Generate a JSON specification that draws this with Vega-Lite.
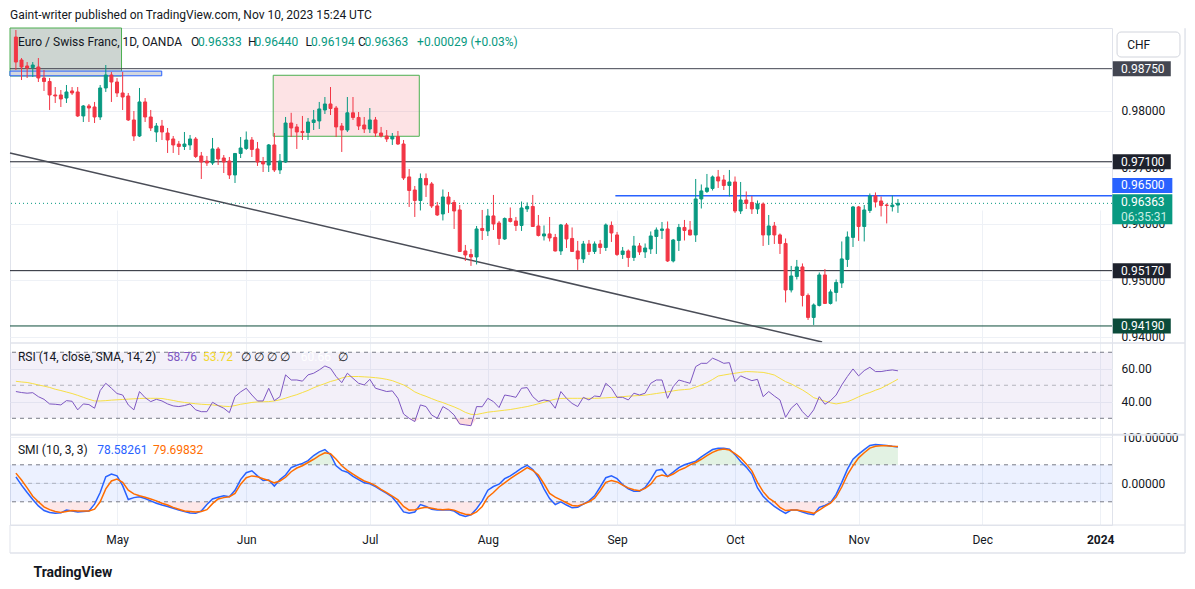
{
  "$schema": "https://vega.github.io/schema/vega-lite/v6.json",
  "description": "EUR/CHF daily candles with RSI and SMI panes, TradingView style.",
  "width": 1102,
  "height": 497,
  "autosize": {"type": "none"},
  "padding": {"left": 10, "top": 28, "right": 83, "bottom": 64},
  "background": "#ffffff",
  "title": {
    "text": "Gaint-writer published on TradingView.com, Nov 10, 2023 15:24 UTC",
    "anchor": "start",
    "frame": "group",
    "fontSize": 12,
    "fontWeight": "normal",
    "color": "#131722",
    "baseline": "middle",
    "offset": 0
  },
  "config": {
    "font": "Roboto",
    "view": {"stroke": "#e0e3eb"},
    "axis": {
      "labelFontSize": 12,
      "labelColor": "#131722",
      "domain": false,
      "ticks": false,
      "gridColor": "#eef1f6",
      "labelFlush": false,
      "labelOverlap": false
    }
  },
  "data": {"values": [{}]},
  "datasets": {
    "levels": [
      {"p": 0.9875, "tag": "0.98750"},
      {"p": 0.971, "tag": "0.97100"},
      {"p": 0.965, "tag": "0.96500"},
      {"p": 0.9517, "tag": "0.95170"},
      {"p": 0.9419, "tag": "0.94190"}
    ],
    "bars": [
      {"i":0,"o":0.99311,"h":0.99435,"l":0.98727,"c":0.98868,"rsi":46.2,"ma":52.4,"smi":14,"sig":22},
      {"i":1,"o":0.98904,"h":0.98939,"l":0.98549,"c":0.98780,"rsi":45.6,"ma":52.0,"smi":-4,"sig":7},
      {"i":2,"o":0.98798,"h":0.98868,"l":0.98585,"c":0.98762,"rsi":45.2,"ma":51.7,"smi":-20,"sig":-10},
      {"i":3,"o":0.98771,"h":0.98868,"l":0.98603,"c":0.98815,"rsi":45.5,"ma":51.0,"smi":-35,"sig":-28},
      {"i":4,"o":0.98780,"h":0.98939,"l":0.98514,"c":0.98585,"rsi":43.1,"ma":50.2,"smi":-49,"sig":-40},
      {"i":5,"o":0.98585,"h":0.98727,"l":0.98355,"c":0.98523,"rsi":41.5,"ma":49.5,"smi":-59,"sig":-51},
      {"i":6,"o":0.98523,"h":0.98585,"l":0.98018,"c":0.98284,"rsi":38.7,"ma":48.7,"smi":-63,"sig":-57},
      {"i":7,"o":0.98284,"h":0.98425,"l":0.98142,"c":0.98266,"rsi":38.5,"ma":47.6,"smi":-65,"sig":-61},
      {"i":8,"o":0.98284,"h":0.98372,"l":0.98071,"c":0.98213,"rsi":38.1,"ma":46.8,"smi":-64,"sig":-63},
      {"i":9,"o":0.98230,"h":0.98461,"l":0.98142,"c":0.98337,"rsi":40.7,"ma":45.9,"smi":-58,"sig":-61},
      {"i":10,"o":0.98355,"h":0.98425,"l":0.98284,"c":0.98319,"rsi":40.3,"ma":45.0,"smi":-60,"sig":-59},
      {"i":11,"o":0.98337,"h":0.98425,"l":0.97894,"c":0.97912,"rsi":35.1,"ma":43.9,"smi":-62,"sig":-60},
      {"i":12,"o":0.97912,"h":0.98106,"l":0.97805,"c":0.98089,"rsi":38.7,"ma":42.7,"smi":-61,"sig":-60},
      {"i":13,"o":0.98089,"h":0.98124,"l":0.97805,"c":0.98053,"rsi":38.3,"ma":41.5,"smi":-60,"sig":-60},
      {"i":14,"o":0.98071,"h":0.98160,"l":0.97787,"c":0.97894,"rsi":36.1,"ma":40.5,"smi":-45,"sig":-56},
      {"i":15,"o":0.97894,"h":0.98461,"l":0.97841,"c":0.98408,"rsi":46.8,"ma":40.5,"smi":-20,"sig":-40},
      {"i":16,"o":0.98408,"h":0.98815,"l":0.98337,"c":0.98638,"rsi":51.2,"ma":40.7,"smi":14,"sig":-12},
      {"i":17,"o":0.98638,"h":0.98691,"l":0.98160,"c":0.98514,"rsi":48.2,"ma":41.0,"smi":20,"sig":5},
      {"i":18,"o":0.98514,"h":0.98585,"l":0.98248,"c":0.98319,"rsi":45.0,"ma":41.2,"smi":16,"sig":9},
      {"i":19,"o":0.98319,"h":0.98691,"l":0.98018,"c":0.98248,"rsi":44.1,"ma":41.4,"smi":-5,"sig":2},
      {"i":20,"o":0.98266,"h":0.98319,"l":0.97823,"c":0.97841,"rsi":38.1,"ma":41.6,"smi":-35,"sig":-15},
      {"i":21,"o":0.97841,"h":0.98000,"l":0.97469,"c":0.97557,"rsi":35.1,"ma":41.8,"smi":-31,"sig":-23},
      {"i":22,"o":0.97557,"h":0.98408,"l":0.97539,"c":0.98160,"rsi":46.2,"ma":42.0,"smi":-29,"sig":-27},
      {"i":23,"o":0.98160,"h":0.98230,"l":0.97805,"c":0.97894,"rsi":42.5,"ma":42.1,"smi":-33,"sig":-30},
      {"i":24,"o":0.97894,"h":0.98018,"l":0.97646,"c":0.97699,"rsi":40.1,"ma":42.1,"smi":-38,"sig":-34},
      {"i":25,"o":0.97628,"h":0.97787,"l":0.97451,"c":0.97734,"rsi":41.5,"ma":42.1,"smi":-43,"sig":-38},
      {"i":26,"o":0.97734,"h":0.97841,"l":0.97486,"c":0.97628,"rsi":40.5,"ma":42.0,"smi":-47,"sig":-43},
      {"i":27,"o":0.97610,"h":0.97699,"l":0.97256,"c":0.97486,"rsi":38.7,"ma":41.4,"smi":-50,"sig":-47},
      {"i":28,"o":0.97504,"h":0.97557,"l":0.97256,"c":0.97398,"rsi":37.5,"ma":40.8,"smi":-54,"sig":-52},
      {"i":29,"o":0.97415,"h":0.97469,"l":0.97220,"c":0.97371,"rsi":37.1,"ma":40.1,"smi":-58,"sig":-56},
      {"i":30,"o":0.97371,"h":0.97628,"l":0.97309,"c":0.97415,"rsi":37.7,"ma":39.6,"smi":-61,"sig":-60},
      {"i":31,"o":0.97398,"h":0.97575,"l":0.97309,"c":0.97504,"rsi":38.7,"ma":39.2,"smi":-64,"sig":-61},
      {"i":32,"o":0.97504,"h":0.97539,"l":0.97167,"c":0.97194,"rsi":35.1,"ma":38.8,"smi":-65,"sig":-62},
      {"i":33,"o":0.97203,"h":0.97274,"l":0.96795,"c":0.97096,"rsi":34.0,"ma":38.5,"smi":-60,"sig":-61},
      {"i":34,"o":0.97114,"h":0.97203,"l":0.97026,"c":0.97079,"rsi":34.0,"ma":38.3,"smi":-46,"sig":-57},
      {"i":35,"o":0.97079,"h":0.97522,"l":0.97043,"c":0.97327,"rsi":39.7,"ma":38.1,"smi":-34,"sig":-44},
      {"i":36,"o":0.97327,"h":0.97362,"l":0.97043,"c":0.97150,"rsi":37.7,"ma":37.7,"smi":-30,"sig":-34},
      {"i":37,"o":0.97167,"h":0.97220,"l":0.96901,"c":0.97096,"rsi":36.1,"ma":37.3,"smi":-27,"sig":-31},
      {"i":38,"o":0.97114,"h":0.97185,"l":0.96795,"c":0.96866,"rsi":33.4,"ma":37.1,"smi":-29,"sig":-29},
      {"i":39,"o":0.96866,"h":0.97256,"l":0.96724,"c":0.97247,"rsi":43.1,"ma":37.7,"smi":-15,"sig":-22},
      {"i":40,"o":0.97247,"h":0.97539,"l":0.97167,"c":0.97344,"rsi":46.0,"ma":38.5,"smi":8,"sig":-2},
      {"i":41,"o":0.97336,"h":0.97637,"l":0.97309,"c":0.97486,"rsi":48.2,"ma":39.0,"smi":23,"sig":12},
      {"i":42,"o":0.97486,"h":0.97539,"l":0.97185,"c":0.97318,"rsi":44.1,"ma":39.6,"smi":27,"sig":16},
      {"i":43,"o":0.97327,"h":0.97451,"l":0.97026,"c":0.97096,"rsi":40.5,"ma":39.9,"smi":16,"sig":14},
      {"i":44,"o":0.97105,"h":0.97185,"l":0.96919,"c":0.97061,"rsi":40.5,"ma":40.0,"smi":6,"sig":10},
      {"i":45,"o":0.97043,"h":0.97415,"l":0.96919,"c":0.97398,"rsi":48.2,"ma":40.1,"smi":7,"sig":6},
      {"i":46,"o":0.97398,"h":0.97610,"l":0.96919,"c":0.96955,"rsi":40.7,"ma":40.5,"smi":-6,"sig":1},
      {"i":47,"o":0.96955,"h":0.97238,"l":0.96884,"c":0.97114,"rsi":43.1,"ma":41.2,"smi":8,"sig":5},
      {"i":48,"o":0.97096,"h":0.97894,"l":0.97079,"c":0.97787,"rsi":56.3,"ma":42.2,"smi":18,"sig":13},
      {"i":49,"o":0.97787,"h":0.97968,"l":0.97539,"c":0.97699,"rsi":53.2,"ma":43.3,"smi":34,"sig":25},
      {"i":50,"o":0.97717,"h":0.97770,"l":0.97327,"c":0.97628,"rsi":53.2,"ma":44.3,"smi":39,"sig":33},
      {"i":51,"o":0.97637,"h":0.97912,"l":0.97486,"c":0.97619,"rsi":52.5,"ma":45.6,"smi":43,"sig":38},
      {"i":52,"o":0.97619,"h":0.97876,"l":0.97486,"c":0.97805,"rsi":56.3,"ma":46.9,"smi":49,"sig":45},
      {"i":53,"o":0.97796,"h":0.98018,"l":0.97663,"c":0.97841,"rsi":57.3,"ma":48.5,"smi":60,"sig":52},
      {"i":54,"o":0.97823,"h":0.98160,"l":0.97681,"c":0.98036,"rsi":59.3,"ma":49.8,"smi":68,"sig":60},
      {"i":55,"o":0.98018,"h":0.98248,"l":0.97947,"c":0.98124,"rsi":61.7,"ma":51.0,"smi":73,"sig":66},
      {"i":56,"o":0.98124,"h":0.98425,"l":0.97929,"c":0.98044,"rsi":60.3,"ma":52.3,"smi":62,"sig":64},
      {"i":57,"o":0.98053,"h":0.98089,"l":0.97539,"c":0.97717,"rsi":55.3,"ma":53.2,"smi":38,"sig":52},
      {"i":58,"o":0.97734,"h":0.97787,"l":0.97274,"c":0.97663,"rsi":51.6,"ma":54.4,"smi":28,"sig":38},
      {"i":59,"o":0.97663,"h":0.98248,"l":0.97628,"c":0.97968,"rsi":57.3,"ma":55.3,"smi":24,"sig":28},
      {"i":60,"o":0.97968,"h":0.98248,"l":0.97841,"c":0.97885,"rsi":54.2,"ma":55.3,"smi":15,"sig":20},
      {"i":61,"o":0.97885,"h":0.97982,"l":0.97663,"c":0.97734,"rsi":51.2,"ma":55.3,"smi":8,"sig":12},
      {"i":62,"o":0.97752,"h":0.97894,"l":0.97610,"c":0.97681,"rsi":50.2,"ma":55.1,"smi":1,"sig":5},
      {"i":63,"o":0.97681,"h":0.98053,"l":0.97610,"c":0.97841,"rsi":53.6,"ma":54.9,"smi":-1,"sig":1},
      {"i":64,"o":0.97841,"h":0.97894,"l":0.97539,"c":0.97610,"rsi":48.2,"ma":54.6,"smi":-7,"sig":-5},
      {"i":65,"o":0.97610,"h":0.97717,"l":0.97531,"c":0.97557,"rsi":47.2,"ma":54.2,"smi":-15,"sig":-13},
      {"i":66,"o":0.97557,"h":0.97663,"l":0.97451,"c":0.97504,"rsi":46.2,"ma":53.6,"smi":-22,"sig":-20},
      {"i":67,"o":0.97504,"h":0.97610,"l":0.97398,"c":0.97548,"rsi":46.6,"ma":52.8,"smi":-30,"sig":-28},
      {"i":68,"o":0.97548,"h":0.97646,"l":0.97398,"c":0.97415,"rsi":42.1,"ma":51.5,"smi":-45,"sig":-36},
      {"i":69,"o":0.97415,"h":0.97486,"l":0.96777,"c":0.96813,"rsi":32.6,"ma":50.2,"smi":-62,"sig":-50},
      {"i":70,"o":0.96831,"h":0.96972,"l":0.96299,"c":0.96591,"rsi":30.0,"ma":48.3,"smi":-65,"sig":-58},
      {"i":71,"o":0.96600,"h":0.96671,"l":0.96122,"c":0.96414,"rsi":28.0,"ma":46.0,"smi":-62,"sig":-57},
      {"i":72,"o":0.96414,"h":0.96893,"l":0.96237,"c":0.96804,"rsi":38.1,"ma":44.5,"smi":-46,"sig":-54},
      {"i":73,"o":0.96804,"h":0.96893,"l":0.96476,"c":0.96689,"rsi":37.1,"ma":43.3,"smi":-50,"sig":-52},
      {"i":74,"o":0.96707,"h":0.96742,"l":0.96281,"c":0.96317,"rsi":32.0,"ma":41.9,"smi":-56,"sig":-54},
      {"i":75,"o":0.96317,"h":0.96388,"l":0.96140,"c":0.96157,"rsi":30.0,"ma":40.6,"smi":-58,"sig":-56},
      {"i":76,"o":0.96175,"h":0.96609,"l":0.96060,"c":0.96476,"rsi":37.1,"ma":39.5,"smi":-58,"sig":-57},
      {"i":77,"o":0.96476,"h":0.96565,"l":0.96193,"c":0.96352,"rsi":35.1,"ma":38.2,"smi":-57,"sig":-56},
      {"i":78,"o":0.96379,"h":0.96423,"l":0.95909,"c":0.96228,"rsi":32.0,"ma":36.9,"smi":-60,"sig":-58},
      {"i":79,"o":0.96246,"h":0.96334,"l":0.95502,"c":0.95510,"rsi":26.5,"ma":35.4,"smi":-68,"sig":-63},
      {"i":80,"o":0.95519,"h":0.95626,"l":0.95342,"c":0.95448,"rsi":26.0,"ma":33.6,"smi":-72,"sig":-67},
      {"i":81,"o":0.95457,"h":0.95555,"l":0.95254,"c":0.95413,"rsi":25.5,"ma":32.4,"smi":-68,"sig":-68},
      {"i":82,"o":0.95413,"h":0.95962,"l":0.95280,"c":0.95909,"rsi":37.1,"ma":32.3,"smi":-55,"sig":-62},
      {"i":83,"o":0.95918,"h":0.96246,"l":0.95714,"c":0.95883,"rsi":37.0,"ma":33.0,"smi":-38,"sig":-50},
      {"i":84,"o":0.95874,"h":0.96264,"l":0.95785,"c":0.96140,"rsi":42.1,"ma":33.7,"smi":-15,"sig":-30},
      {"i":85,"o":0.96140,"h":0.96512,"l":0.95891,"c":0.95998,"rsi":40.1,"ma":34.1,"smi":-7,"sig":-20},
      {"i":86,"o":0.96015,"h":0.96051,"l":0.95626,"c":0.95741,"rsi":36.5,"ma":34.5,"smi":-2,"sig":-8},
      {"i":87,"o":0.95732,"h":0.96113,"l":0.95714,"c":0.96095,"rsi":44.1,"ma":34.9,"smi":10,"sig":1},
      {"i":88,"o":0.96095,"h":0.96290,"l":0.96024,"c":0.96042,"rsi":43.5,"ma":35.3,"smi":16,"sig":10},
      {"i":89,"o":0.96051,"h":0.96122,"l":0.95874,"c":0.95971,"rsi":42.7,"ma":35.9,"smi":24,"sig":18},
      {"i":90,"o":0.95971,"h":0.96396,"l":0.95874,"c":0.96281,"rsi":48.2,"ma":36.5,"smi":33,"sig":26},
      {"i":91,"o":0.96264,"h":0.96379,"l":0.96210,"c":0.96308,"rsi":48.6,"ma":37.1,"smi":39,"sig":34},
      {"i":92,"o":0.96308,"h":0.96512,"l":0.95945,"c":0.95953,"rsi":43.1,"ma":37.9,"smi":30,"sig":28},
      {"i":93,"o":0.95962,"h":0.96157,"l":0.95776,"c":0.95794,"rsi":40.1,"ma":38.8,"smi":13,"sig":18},
      {"i":94,"o":0.95785,"h":0.95971,"l":0.95705,"c":0.95821,"rsi":41.1,"ma":39.7,"smi":-12,"sig":-1},
      {"i":95,"o":0.95821,"h":0.96122,"l":0.95688,"c":0.95750,"rsi":40.5,"ma":40.7,"smi":-33,"sig":-22},
      {"i":96,"o":0.95759,"h":0.95821,"l":0.95510,"c":0.95519,"rsi":36.1,"ma":41.6,"smi":-46,"sig":-30},
      {"i":97,"o":0.95519,"h":0.95998,"l":0.95448,"c":0.95980,"rsi":46.2,"ma":42.0,"smi":-40,"sig":-36},
      {"i":98,"o":0.95980,"h":0.96015,"l":0.95572,"c":0.95732,"rsi":42.1,"ma":42.1,"smi":-47,"sig":-42},
      {"i":99,"o":0.95741,"h":0.95936,"l":0.95502,"c":0.95510,"rsi":39.0,"ma":42.1,"smi":-53,"sig":-48},
      {"i":100,"o":0.95519,"h":0.95697,"l":0.95183,"c":0.95378,"rsi":37.1,"ma":42.1,"smi":-52,"sig":-49},
      {"i":101,"o":0.95378,"h":0.95697,"l":0.95307,"c":0.95643,"rsi":42.7,"ma":42.1,"smi":-45,"sig":-45},
      {"i":102,"o":0.95643,"h":0.95714,"l":0.95448,"c":0.95510,"rsi":41.1,"ma":42.1,"smi":-38,"sig":-40},
      {"i":103,"o":0.95510,"h":0.95688,"l":0.95466,"c":0.95643,"rsi":43.5,"ma":42.1,"smi":-27,"sig":-32},
      {"i":104,"o":0.95643,"h":0.95714,"l":0.95466,"c":0.95581,"rsi":43.1,"ma":42.2,"smi":-8,"sig":-16},
      {"i":105,"o":0.95581,"h":0.96007,"l":0.95519,"c":0.95980,"rsi":51.2,"ma":42.4,"smi":12,"sig":2},
      {"i":106,"o":0.95971,"h":0.96042,"l":0.95679,"c":0.95838,"rsi":48.2,"ma":42.6,"smi":16,"sig":6},
      {"i":107,"o":0.95803,"h":0.95856,"l":0.95431,"c":0.95457,"rsi":42.7,"ma":42.8,"smi":10,"sig":3},
      {"i":108,"o":0.95457,"h":0.95590,"l":0.95378,"c":0.95519,"rsi":42.7,"ma":43.1,"smi":-3,"sig":-4},
      {"i":109,"o":0.95519,"h":0.95546,"l":0.95236,"c":0.95404,"rsi":41.1,"ma":43.4,"smi":-12,"sig":-10},
      {"i":110,"o":0.95404,"h":0.95785,"l":0.95342,"c":0.95608,"rsi":45.2,"ma":43.6,"smi":-17,"sig":-14},
      {"i":111,"o":0.95608,"h":0.95661,"l":0.95448,"c":0.95502,"rsi":44.1,"ma":43.8,"smi":-17,"sig":-16},
      {"i":112,"o":0.95502,"h":0.95652,"l":0.95395,"c":0.95572,"rsi":45.2,"ma":44.0,"smi":-9,"sig":-11},
      {"i":113,"o":0.95555,"h":0.95865,"l":0.95466,"c":0.95785,"rsi":51.2,"ma":44.5,"smi":8,"sig":-2},
      {"i":114,"o":0.95776,"h":0.95936,"l":0.95466,"c":0.95891,"rsi":53.2,"ma":45.0,"smi":28,"sig":14},
      {"i":115,"o":0.95883,"h":0.96033,"l":0.95732,"c":0.95909,"rsi":53.2,"ma":45.5,"smi":30,"sig":18},
      {"i":116,"o":0.95909,"h":0.96042,"l":0.95324,"c":0.95342,"rsi":42.1,"ma":46.0,"smi":15,"sig":15},
      {"i":117,"o":0.95342,"h":0.95732,"l":0.95316,"c":0.95714,"rsi":49.2,"ma":46.6,"smi":24,"sig":20},
      {"i":118,"o":0.95705,"h":0.95998,"l":0.95519,"c":0.95936,"rsi":53.2,"ma":47.1,"smi":34,"sig":28},
      {"i":119,"o":0.95936,"h":0.96069,"l":0.95705,"c":0.95883,"rsi":52.2,"ma":47.4,"smi":40,"sig":33},
      {"i":120,"o":0.95891,"h":0.96051,"l":0.95794,"c":0.95803,"rsi":51.2,"ma":47.7,"smi":44,"sig":40},
      {"i":121,"o":0.95803,"h":0.96795,"l":0.95679,"c":0.96441,"rsi":61.3,"ma":48.9,"smi":48,"sig":45},
      {"i":122,"o":0.96441,"h":0.96698,"l":0.96272,"c":0.96583,"rsi":63.3,"ma":50.2,"smi":57,"sig":52},
      {"i":123,"o":0.96574,"h":0.96884,"l":0.96547,"c":0.96636,"rsi":63.3,"ma":51.6,"smi":65,"sig":60},
      {"i":124,"o":0.96627,"h":0.96857,"l":0.96591,"c":0.96831,"rsi":66.4,"ma":53.5,"smi":73,"sig":67},
      {"i":125,"o":0.96831,"h":0.96955,"l":0.96636,"c":0.96760,"rsi":65.0,"ma":55.6,"smi":76,"sig":72},
      {"i":126,"o":0.96777,"h":0.96866,"l":0.96600,"c":0.96680,"rsi":63.3,"ma":56.2,"smi":76,"sig":74},
      {"i":127,"o":0.96680,"h":0.96955,"l":0.96485,"c":0.96742,"rsi":63.7,"ma":56.8,"smi":74,"sig":72},
      {"i":128,"o":0.96742,"h":0.96839,"l":0.96193,"c":0.96228,"rsi":52.2,"ma":57.3,"smi":62,"sig":64},
      {"i":129,"o":0.96228,"h":0.96742,"l":0.96175,"c":0.96423,"rsi":55.7,"ma":57.8,"smi":47,"sig":55},
      {"i":130,"o":0.96423,"h":0.96574,"l":0.96264,"c":0.96361,"rsi":54.2,"ma":58.3,"smi":35,"sig":42},
      {"i":131,"o":0.96379,"h":0.96494,"l":0.96175,"c":0.96264,"rsi":52.8,"ma":58.2,"smi":20,"sig":27},
      {"i":132,"o":0.96264,"h":0.96414,"l":0.96175,"c":0.96352,"rsi":53.6,"ma":58.0,"smi":-10,"sig":2},
      {"i":133,"o":0.96352,"h":0.96379,"l":0.95608,"c":0.95803,"rsi":43.1,"ma":57.8,"smi":-28,"sig":-18},
      {"i":134,"o":0.95803,"h":0.96157,"l":0.95626,"c":0.95962,"rsi":46.2,"ma":57.1,"smi":-40,"sig":-32},
      {"i":135,"o":0.95962,"h":0.96033,"l":0.95643,"c":0.95803,"rsi":43.5,"ma":56.2,"smi":-50,"sig":-40},
      {"i":136,"o":0.95803,"h":0.95829,"l":0.95466,"c":0.95652,"rsi":41.1,"ma":54.2,"smi":-58,"sig":-52},
      {"i":137,"o":0.95652,"h":0.95741,"l":0.94607,"c":0.94828,"rsi":30.6,"ma":52.2,"smi":-65,"sig":-59},
      {"i":138,"o":0.94828,"h":0.95254,"l":0.94784,"c":0.95076,"rsi":36.1,"ma":50.8,"smi":-58,"sig":-58},
      {"i":139,"o":0.95067,"h":0.95360,"l":0.95014,"c":0.95236,"rsi":39.1,"ma":49.0,"smi":-58,"sig":-58},
      {"i":140,"o":0.95236,"h":0.95298,"l":0.94536,"c":0.94731,"rsi":34.0,"ma":47.2,"smi":-62,"sig":-60},
      {"i":141,"o":0.94731,"h":0.94766,"l":0.94297,"c":0.94341,"rsi":30.6,"ma":45.0,"smi":-66,"sig":-62},
      {"i":142,"o":0.94341,"h":0.94589,"l":0.94208,"c":0.94562,"rsi":35.1,"ma":42.5,"smi":-68,"sig":-65},
      {"i":143,"o":0.94554,"h":0.95138,"l":0.94536,"c":0.95094,"rsi":43.1,"ma":41.4,"smi":-52,"sig":-58},
      {"i":144,"o":0.95094,"h":0.95200,"l":0.94580,"c":0.94589,"rsi":38.5,"ma":40.4,"smi":-48,"sig":-50},
      {"i":145,"o":0.94589,"h":0.94837,"l":0.94571,"c":0.94793,"rsi":40.7,"ma":39.4,"smi":-42,"sig":-43},
      {"i":146,"o":0.94784,"h":0.95014,"l":0.94624,"c":0.94961,"rsi":44.1,"ma":38.7,"smi":-24,"sig":-30},
      {"i":147,"o":0.94952,"h":0.95688,"l":0.94864,"c":0.95378,"rsi":50.2,"ma":39.3,"smi":2,"sig":-8},
      {"i":148,"o":0.95369,"h":0.95865,"l":0.95236,"c":0.95767,"rsi":55.3,"ma":40.0,"smi":30,"sig":18},
      {"i":149,"o":0.95759,"h":0.96317,"l":0.95590,"c":0.96299,"rsi":59.9,"ma":41.4,"smi":52,"sig":38},
      {"i":150,"o":0.96299,"h":0.96317,"l":0.95697,"c":0.95953,"rsi":55.7,"ma":43.0,"smi":63,"sig":55},
      {"i":151,"o":0.95953,"h":0.96334,"l":0.95688,"c":0.96246,"rsi":58.9,"ma":44.5,"smi":73,"sig":66},
      {"i":152,"o":0.96237,"h":0.96538,"l":0.96193,"c":0.96494,"rsi":60.9,"ma":45.6,"smi":82,"sig":76},
      {"i":153,"o":0.96494,"h":0.96556,"l":0.96290,"c":0.96388,"rsi":58.3,"ma":47.0,"smi":84,"sig":80},
      {"i":154,"o":0.96405,"h":0.96485,"l":0.96131,"c":0.96326,"rsi":58.3,"ma":48.2,"smi":83,"sig":81},
      {"i":155,"o":0.96334,"h":0.96361,"l":0.96007,"c":0.96326,"rsi":58.9,"ma":50.0,"smi":82,"sig":81},
      {"i":156,"o":0.96305,"h":0.96503,"l":0.96219,"c":0.96333,"rsi":59.3,"ma":51.8,"smi":80,"sig":80},
      {"i":157,"o":0.96333,"h":0.96440,"l":0.96194,"c":0.96363,"rsi":58.76,"ma":53.72,"smi":78.58,"sig":79.7}
    ]
  },
  "layer": [
    {
      "layer": [
        {
          "mark": {"type": "rect", "fill": "#cdd5d1", "stroke": "#4caf50", "strokeWidth": 1},
          "encoding": {
            "x": {"datum": -1.05},
            "x2": {"datum": 18.8},
            "y": {"datum": 0.99471},
            "y2": {"datum": 0.9862}
          }
        },
        {
          "mark": {"type": "rect", "fill": "#d3d7de", "stroke": "#2962ff", "strokeWidth": 1},
          "encoding": {
            "x": {"datum": -1.05},
            "x2": {"datum": 25.96},
            "y": {"datum": 0.98707},
            "y2": {"datum": 0.98624}
          }
        },
        {
          "mark": {"type": "rect", "fill": "#f23645", "fillOpacity": 0.14, "stroke": "#4caf50", "strokeWidth": 1},
          "encoding": {
            "x": {"datum": 45.8},
            "x2": {"datum": 71.8},
            "y": {"datum": 0.98633},
            "y2": {"datum": 0.97552}
          }
        },
        {
          "data": {"name": "levels"},
          "transform": [{"filter": "datum.tag != '0.96500'"}],
          "mark": {"type": "rule", "strokeWidth": 1},
          "encoding": {
            "y": {"field": "p", "type": "quantitative"},
            "color": {
              "field": "tag",
              "type": "nominal",
              "legend": null,
              "scale": {
                "domain": ["0.98750", "0.97100", "0.96500", "0.95170", "0.94190"],
                "range": ["#434651", "#1e222d", "#2962ff", "#1e222d", "#0b4b3a"]
              }
            }
          }
        },
        {
          "mark": {"type": "rule", "color": "#2962ff", "strokeWidth": 1.5},
          "encoding": {
            "x": {"datum": 106.7},
            "x2": {"datum": 195.1},
            "y": {"datum": 0.965}
          }
        },
        {
          "mark": {"type": "rule", "color": "#089981", "strokeWidth": 1, "strokeDash": [1, 3]},
          "encoding": {"y": {"datum": 0.96363}}
        },
        {
          "mark": {"type": "rule", "color": "#4a4d57", "strokeWidth": 1.5},
          "encoding": {
            "x": {"datum": -1.05},
            "x2": {"datum": 143.5},
            "y": {"datum": 0.97256},
            "y2": {"datum": 0.93906}
          }
        },
        {
          "data": {"name": "bars"},
          "mark": {"type": "rule", "strokeWidth": 1},
          "encoding": {
            "x": {"field": "i", "type": "quantitative"},
            "y": {"field": "l", "type": "quantitative"},
            "y2": {"field": "h"},
            "color": {"condition": {"test": "datum.c >= datum.o", "value": "#089981"}, "value": "#f23645"}
          }
        },
        {
          "data": {"name": "bars"},
          "mark": {"type": "bar", "orient": "vertical", "size": 3, "strokeWidth": 1},
          "encoding": {
            "x": {
              "field": "i",
              "type": "quantitative",
              "scale": {"domain": [-1.05, 195.1], "nice": false, "zero": false, "padding": 0},
              "axis": {
                "values": [18, 41, 63, 84, 107, 128, 150, 172, 193],
                "labelExpr": "datum.value == 18 ? 'May' : datum.value == 41 ? 'Jun' : datum.value == 63 ? 'Jul' : datum.value == 84 ? 'Aug' : datum.value == 107 ? 'Sep' : datum.value == 128 ? 'Oct' : datum.value == 150 ? 'Nov' : datum.value == 172 ? 'Dec' : '2024'",
                "labelFontWeight": {"condition": {"test": "datum.value == 193", "value": "bold"}, "value": "normal"},
                "grid": true,
                "labelPadding": 9,
                "title": "TradingView",
                "titleAnchor": "start",
                "titleAlign": "left",
                "titleBaseline": "middle",
                "titleX": 23,
                "titleY": 47,
                "titleFontSize": 14,
                "titleFontWeight": "bold",
                "titleColor": "#131722"
              }
            },
            "y": {
              "field": "o",
              "type": "quantitative",
              "scale": {"domain": [0.93888, 0.99471], "range": [315, 0], "nice": false, "zero": false, "padding": 0},
              "axis": {"orient": "right", "values": [0.94, 0.95, 0.96, 0.97, 0.98], "format": ".5f", "grid": true, "labelPadding": 9, "title": null}
            },
            "y2": {"field": "c"},
            "fill": {"condition": {"test": "datum.c >= datum.o", "value": "#089981"}, "value": "#f23645"},
            "stroke": {"condition": {"test": "datum.c >= datum.o", "value": "#089981"}, "value": "#f23645"}
          }
        },
        {
          "data": {"name": "levels"},
          "transform": [{"filter": "datum.tag != '0.96500'"}],
          "mark": {"type": "tick", "orient": "horizontal", "size": 58, "thickness": 15, "opacity": 1},
          "encoding": {
            "x": {"datum": 200.4},
            "y": {"field": "p", "type": "quantitative"},
            "color": {"field": "tag", "type": "nominal", "legend": null}
          }
        },
        {
          "data": {"name": "levels"},
          "transform": [{"filter": "datum.tag != '0.96500'"}],
          "mark": {"type": "text", "align": "left", "baseline": "middle", "fontSize": 12, "color": "#ffffff"},
          "encoding": {
            "x": {"datum": 196.7},
            "y": {"field": "p", "type": "quantitative"},
            "text": {"field": "tag"}
          }
        },
        {
          "mark": {"type": "tick", "orient": "horizontal", "size": 60, "thickness": 15, "opacity": 1, "color": "#2962ff"},
          "encoding": {"x": {"datum": 200.5}, "y": {"datum": 0.9668}}
        },
        {
          "mark": {"type": "text", "align": "left", "baseline": "middle", "fontSize": 12, "color": "#ffffff", "text": "0.96500"},
          "encoding": {"x": {"datum": 196.7}, "y": {"datum": 0.9668}}
        },
        {
          "mark": {"type": "tick", "orient": "horizontal", "size": 60, "thickness": 30, "opacity": 1, "color": "#089981"},
          "encoding": {"x": {"datum": 200.5}, "y": {"datum": 0.9626}}
        },
        {
          "mark": {"type": "text", "align": "left", "baseline": "middle", "fontSize": 12, "color": "#ffffff", "text": "0.96363"},
          "encoding": {"x": {"datum": 196.7}, "y": {"datum": 0.96387}}
        },
        {
          "mark": {"type": "text", "align": "left", "baseline": "middle", "fontSize": 12, "color": "#c9efe3", "text": "06:35:31"},
          "encoding": {"x": {"datum": 196.7}, "y": {"datum": 0.96121}}
        },
        {
          "mark": {"type": "rect", "fill": "#ffffff", "stroke": "#d1d4dc", "strokeWidth": 1, "cornerRadius": 4},
          "encoding": {
            "x": {"datum": 196.0},
            "x2": {"datum": 207.2},
            "y": {"datum": 0.994},
            "y2": {"datum": 0.98957}
          }
        },
        {
          "mark": {"type": "text", "align": "left", "baseline": "middle", "fontSize": 12, "color": "#131722", "text": "CHF"},
          "encoding": {"x": {"datum": 197.8}, "y": {"datum": 0.99178}}
        },
        {
          "mark": {"type": "text", "align": "left", "baseline": "middle", "fontSize": 12, "color": "#131722", "text": "Euro / Swiss Franc, 1D, OANDA"},
          "encoding": {"x": {"datum": 0.37}, "y": {"datum": 0.99228}}
        },
        {
          "mark": {"type": "text", "align": "left", "baseline": "middle", "fontSize": 12, "color": "#131722", "text": "O"},
          "encoding": {"x": {"datum": 31.17}, "y": {"datum": 0.99228}}
        },
        {
          "mark": {"type": "text", "align": "left", "baseline": "middle", "fontSize": 12, "color": "#089981", "text": "0.96333"},
          "encoding": {"x": {"datum": 32.42}, "y": {"datum": 0.99228}}
        },
        {
          "mark": {"type": "text", "align": "left", "baseline": "middle", "fontSize": 12, "color": "#131722", "text": "H"},
          "encoding": {"x": {"datum": 41.33}, "y": {"datum": 0.99228}}
        },
        {
          "mark": {"type": "text", "align": "left", "baseline": "middle", "fontSize": 12, "color": "#089981", "text": "0.96440"},
          "encoding": {"x": {"datum": 42.48}, "y": {"datum": 0.99228}}
        },
        {
          "mark": {"type": "text", "align": "left", "baseline": "middle", "fontSize": 12, "color": "#131722", "text": "L"},
          "encoding": {"x": {"datum": 51.56}, "y": {"datum": 0.99228}}
        },
        {
          "mark": {"type": "text", "align": "left", "baseline": "middle", "fontSize": 12, "color": "#089981", "text": "0.96194"},
          "encoding": {"x": {"datum": 52.54}, "y": {"datum": 0.99228}}
        },
        {
          "mark": {"type": "text", "align": "left", "baseline": "middle", "fontSize": 12, "color": "#131722", "text": "C"},
          "encoding": {"x": {"datum": 60.9}, "y": {"datum": 0.99228}}
        },
        {
          "mark": {"type": "text", "align": "left", "baseline": "middle", "fontSize": 12, "color": "#089981", "text": "0.96363"},
          "encoding": {"x": {"datum": 62.06}, "y": {"datum": 0.99228}}
        },
        {
          "mark": {"type": "text", "align": "left", "baseline": "middle", "fontSize": 12, "color": "#089981", "text": "+0.00029 (+0.03%)"},
          "encoding": {"x": {"datum": 71.41}, "y": {"datum": 0.99228}}
        }
      ]
    },
    {
      "data": {"name": "bars"},
      "mark": {"type": "area", "color": "#f23645", "opacity": 0.18},
      "encoding": {
        "x": {"field": "i", "type": "quantitative"},
        "y": {
          "field": "rsi",
          "type": "quantitative",
          "scale": {"domain": [20, 30], "range": [406.8, 390.3], "clamp": true, "nice": false, "zero": false},
          "axis": null
        },
        "y2": {"datum": 30}
      }
    },
    {
      "layer": [
        {
          "mark": {"type": "rect", "color": "#7e57c2", "opacity": 0.09},
          "encoding": {
            "x": {"datum": -1.05},
            "x2": {"datum": 195.1},
            "y": {"datum": 70},
            "y2": {"datum": 30}
          }
        },
        {
          "mark": {"type": "rule", "color": "#787b86", "strokeDash": [4, 4]},
          "encoding": {"y": {"datum": 70}}
        },
        {
          "mark": {"type": "rule", "color": "#787b86", "strokeDash": [4, 4], "opacity": 0.5},
          "encoding": {"y": {"datum": 50}}
        },
        {
          "mark": {"type": "rule", "color": "#787b86", "strokeDash": [4, 4]},
          "encoding": {"y": {"datum": 30}}
        },
        {
          "mark": {"type": "rule", "color": "#e0e3eb", "strokeWidth": 1.5},
          "encoding": {"x": {"datum": -1.05}, "x2": {"datum": 208.1}, "y": {"datum": 75.6}}
        },
        {
          "mark": {"type": "rule", "color": "#e0e3eb", "strokeWidth": 2},
          "encoding": {"x": {"datum": -1.05}, "x2": {"datum": 208.1}, "y": {"datum": 20}}
        },
        {
          "data": {"name": "bars"},
          "mark": {"type": "line", "color": "#f7df45", "strokeWidth": 1},
          "encoding": {
            "x": {"field": "i", "type": "quantitative"},
            "y": {"field": "ma", "type": "quantitative"}
          }
        },
        {
          "data": {"name": "bars"},
          "mark": {"type": "line", "color": "#7e57c2", "strokeWidth": 1},
          "encoding": {
            "x": {"field": "i", "type": "quantitative"},
            "y": {
              "field": "rsi",
              "type": "quantitative",
              "scale": {"domain": [20, 75], "range": [406.8, 316], "nice": false, "zero": false},
              "axis": {"orient": "right", "values": [40, 60], "format": ".2f", "grid": true, "labelPadding": 9, "title": null}
            }
          }
        },
        {
          "mark": {"type": "text", "align": "left", "baseline": "middle", "fontSize": 12, "color": "#131722", "text": "RSI (14, close, SMA, 14, 2)"},
          "encoding": {"x": {"datum": 0.37}, "y": {"datum": 66.9}}
        },
        {
          "mark": {"type": "text", "align": "left", "baseline": "middle", "fontSize": 12, "color": "#7e57c2", "text": "58.76"},
          "encoding": {"x": {"datum": 26.86}, "y": {"datum": 66.9}}
        },
        {
          "mark": {"type": "text", "align": "left", "baseline": "middle", "fontSize": 12, "color": "#f2d730", "text": "53.72"},
          "encoding": {"x": {"datum": 33.29}, "y": {"datum": 66.9}}
        },
        {
          "mark": {"type": "text", "align": "left", "baseline": "middle", "fontSize": 12, "color": "#131722", "text": "∅  ∅  ∅  ∅"},
          "encoding": {"x": {"datum": 40.07}, "y": {"datum": 66.9}}
        },
        {
          "mark": {"type": "text", "align": "left", "baseline": "middle", "fontSize": 12, "color": "#ffffff", "text": "60.66"},
          "encoding": {"x": {"datum": 50.7}, "y": {"datum": 66.9}}
        },
        {
          "mark": {"type": "text", "align": "left", "baseline": "middle", "fontSize": 12, "color": "#131722", "text": "∅"},
          "encoding": {"x": {"datum": 57.25}, "y": {"datum": 66.9}}
        }
      ]
    },
    {
      "data": {"name": "bars"},
      "mark": {"type": "area", "color": "#4caf50", "opacity": 0.16},
      "encoding": {
        "x": {"field": "i", "type": "quantitative"},
        "y": {
          "field": "smi",
          "type": "quantitative",
          "scale": {"domain": [40, 102.3], "range": [436.8, 408], "clamp": true, "nice": false, "zero": false},
          "axis": null
        },
        "y2": {"datum": 40}
      }
    },
    {
      "data": {"name": "bars"},
      "mark": {"type": "area", "color": "#f23645", "opacity": 0.12},
      "encoding": {
        "x": {"field": "i", "type": "quantitative"},
        "y": {
          "field": "smi",
          "type": "quantitative",
          "scale": {"domain": [-90.2, -40], "range": [497, 473.8], "clamp": true, "nice": false, "zero": false},
          "axis": null
        },
        "y2": {"datum": -40}
      }
    },
    {
      "layer": [
        {
          "mark": {"type": "rect", "color": "#2962ff", "opacity": 0.09},
          "encoding": {
            "x": {"datum": -1.05},
            "x2": {"datum": 195.1},
            "y": {"datum": 40},
            "y2": {"datum": -40}
          }
        },
        {
          "mark": {"type": "rule", "color": "#787b86", "strokeDash": [4, 4]},
          "encoding": {"y": {"datum": 40}}
        },
        {
          "mark": {"type": "rule", "color": "#787b86", "strokeDash": [4, 4], "opacity": 0.5},
          "encoding": {"y": {"datum": 0}}
        },
        {
          "mark": {"type": "rule", "color": "#787b86", "strokeDash": [4, 4]},
          "encoding": {"y": {"datum": -40}}
        },
        {
          "mark": {"type": "rule", "color": "#e0e3eb", "strokeWidth": 1},
          "encoding": {"x": {"datum": -1.05}, "x2": {"datum": 208.1}, "y": {"datum": -90.2}}
        },
        {
          "mark": {"type": "rule", "color": "#e0e3eb", "strokeWidth": 1.5},
          "encoding": {"x": {"datum": -1.05}, "x2": {"datum": 208.1}, "y": {"datum": -150.7}}
        },
        {
          "mark": {"type": "rule", "color": "#e0e3eb", "strokeWidth": 1.5},
          "encoding": {"x": {"datum": 208.1}, "y": {"datum": 984.4}, "y2": {"datum": -150.7}}
        },
        {
          "mark": {"type": "rule", "color": "#e0e3eb", "strokeWidth": 1},
          "encoding": {"x": {"datum": -1.05}, "y": {"datum": -90.2}, "y2": {"datum": -150.7}}
        },
        {
          "data": {"name": "bars"},
          "mark": {"type": "line", "color": "#2962ff", "strokeWidth": 1.5},
          "encoding": {
            "x": {"field": "i", "type": "quantitative"},
            "y": {
              "field": "smi",
              "type": "quantitative",
              "scale": {"domain": [-90.2, 102.3], "range": [497, 408], "nice": false, "zero": false},
              "axis": {"orient": "right", "values": [0, 100], "format": ".5f", "grid": true, "labelPadding": 9, "title": null}
            }
          }
        },
        {
          "data": {"name": "bars"},
          "mark": {"type": "line", "color": "#ff6d00", "strokeWidth": 1.5},
          "encoding": {
            "x": {"field": "i", "type": "quantitative"},
            "y": {"field": "sig", "type": "quantitative"}
          }
        },
        {
          "mark": {"type": "text", "align": "left", "baseline": "middle", "fontSize": 12, "color": "#131722", "text": "SMI (10, 3, 3)"},
          "encoding": {"x": {"datum": 0.37}, "y": {"datum": 72}}
        },
        {
          "mark": {"type": "text", "align": "left", "baseline": "middle", "fontSize": 12, "color": "#2962ff", "text": "78.58261"},
          "encoding": {"x": {"datum": 14.46}, "y": {"datum": 72}}
        },
        {
          "mark": {"type": "text", "align": "left", "baseline": "middle", "fontSize": 12, "color": "#ff6d00", "text": "79.69832"},
          "encoding": {"x": {"datum": 24.39}, "y": {"datum": 72}}
        }
      ]
    }
  ],
  "resolve": {"scale": {"y": "independent"}, "axis": {"y": "independent"}}
}
